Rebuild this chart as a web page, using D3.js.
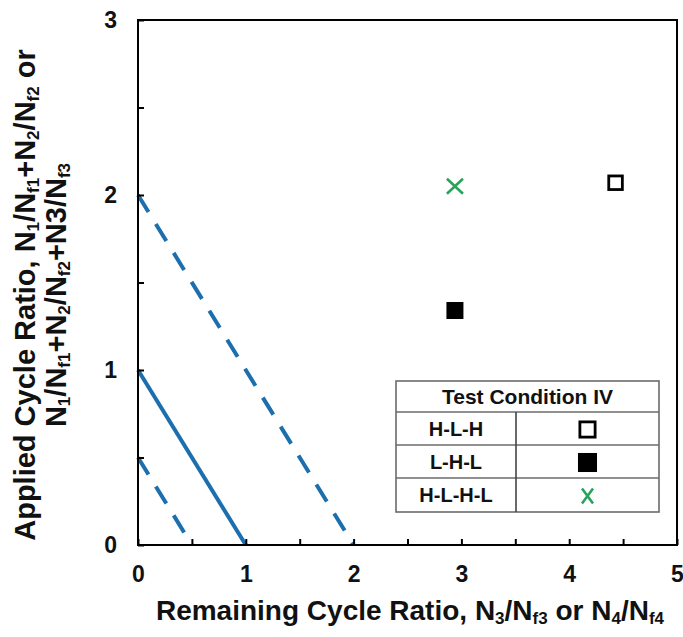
<!DOCTYPE html>
<html>
<head>
<meta charset="utf-8">
<script src="https://cdn.jsdelivr.net/npm/d3@7"></script>
<style>
  html, body { margin: 0; padding: 0; background: #fff; }
  svg { display: block; font-family: "Liberation Sans", Arial, sans-serif; }
</style>
</head>
<body>
<svg id="chart" width="683" height="637"></svg>
<script>
// Cumulative damage sums for the reference lines (x + y = sum)
const damageSums = [0.5, 1, 2];

// Loading sequences and their measured cycle ratios
const sequences = ["H-L-H", "L-H-L", "H-L-H-L"];
const remainingRatio = [4.43, 2.94, 2.94];
const appliedRatio = [2.07, 1.34, 2.05];

// Axis ticks
const xTicks = [0, 0.5, 1, 1.5, 2, 2.5, 3, 3.5, 4, 4.5, 5];
const yTicks = [0, 0.5, 1, 1.5, 2, 2.5, 3];

const legendTitle = "Test Condition IV";

const svg = d3.select("#chart");
const margin = { left: 138, top: 20, right: 6, bottom: 92 };
const W = 683, H = 637;

const x = d3.scaleLinear().domain([0, 5]).range([margin.left, W - margin.right]);
const y = d3.scaleLinear().domain([0, 3]).range([H - margin.bottom, margin.top]);

const blue = "#1c6fae";
const green = "#2aa35a";

// Reference lines
svg.append("g").selectAll("line")
  .data(damageSums)
  .join("line")
  .attr("x1", d => x(0)).attr("y1", d => y(d))
  .attr("x2", d => x(d)).attr("y2", d => y(0))
  .attr("stroke", blue)
  .attr("stroke-width", 4)
  .attr("stroke-dasharray", d => d === 1 ? null : "20,14");

// Plot frame
svg.append("rect")
  .attr("x", x(0)).attr("y", y(3))
  .attr("width", x(5) - x(0)).attr("height", y(0) - y(3))
  .attr("fill", "none").attr("stroke", "#000").attr("stroke-width", 2);

const fmt = d => Number.isInteger(d) ? d3.format("d")(d) : "";

const xAxis = svg.append("g")
  .attr("transform", `translate(0,${y(0)})`)
  .call(d3.axisBottom(x).tickValues(xTicks).tickSize(-6).tickPadding(21).tickFormat(fmt));
const yAxis = svg.append("g")
  .attr("transform", `translate(${x(0)},0)`)
  .call(d3.axisLeft(y).tickValues(yTicks).tickSize(-6).tickPadding(21).tickFormat(fmt));

[xAxis, yAxis].forEach(g => {
  g.select(".domain").remove();
  g.selectAll(".tick line").attr("stroke", "#000").attr("stroke-width", 2);
  g.selectAll(".tick text")
    .attr("fill", "#111")
    .style("font-size", "23px")
    .style("font-weight", "bold");
});

// Data markers
function drawMarker(g, kind, cx, cy, big) {
  const k = big ? 1.12 : 1;
  if (kind === 0) {
    const s = 6.8 * k;
    g.append("rect").attr("x", cx - s).attr("y", cy - s).attr("width", 2 * s).attr("height", 2 * s)
      .attr("fill", "#fff").attr("stroke", "#000").attr("stroke-width", 2.8);
  } else if (kind === 1) {
    const s = 8.5 * k;
    g.append("rect").attr("x", cx - s).attr("y", cy - s).attr("width", 2 * s).attr("height", 2 * s)
      .attr("fill", "#000");
  } else {
    const sx = big ? 5.5 : 8, sy = 7.5;
    g.append("path")
      .attr("d", `M${cx - sx},${cy - sy}L${cx + sx},${cy + sy}M${cx - sx},${cy + sy}L${cx + sx},${cy - sy}`)
      .attr("stroke", green).attr("stroke-width", 2.6).attr("fill", "none");
  }
}

const pts = svg.append("g");
sequences.forEach((s, i) => drawMarker(pts, i, x(remainingRatio[i]), y(appliedRatio[i]), false));

// Legend table
const lg = svg.append("g");
const L = { x0: 396, x1: 659, xm: 516, y0: 381, rows: [412, 445, 478, 512] };
lg.append("rect").attr("x", L.x0).attr("y", L.y0).attr("width", L.x1 - L.x0).attr("height", L.rows[3] - L.y0)
  .attr("fill", "#fff").attr("stroke", "#6b6b6b").attr("stroke-width", 1.6);
L.rows.slice(0, 3).forEach(ry => {
  lg.append("line").attr("x1", L.x0).attr("x2", L.x1).attr("y1", ry).attr("y2", ry)
    .attr("stroke", "#6b6b6b").attr("stroke-width", 1.6);
});
lg.append("line").attr("x1", L.xm).attr("x2", L.xm).attr("y1", L.rows[0]).attr("y2", L.rows[3])
  .attr("stroke", "#444").attr("stroke-width", 1.6);
lg.append("text").attr("x", (L.x0 + L.x1) / 2).attr("y", (L.y0 + L.rows[0]) / 2 + 7.5)
  .attr("text-anchor", "middle").style("font-size", "21px").style("font-weight", "bold")
  .attr("fill", "#111").text(legendTitle);
sequences.forEach((s, i) => {
  const cy = (L.rows[i] + L.rows[i + 1]) / 2;
  lg.append("text").attr("x", (L.x0 + L.xm) / 2).attr("y", cy + 7)
    .attr("text-anchor", "middle").style("font-size", "20px").style("font-weight", "bold")
    .attr("fill", "#111").text(s);
  drawMarker(lg, i, (L.xm + L.x1) / 2, cy + 1, true);
});

// Axis titles with subscripts
function richText(sel, parts) {
  parts.forEach(p => {
    const t = sel.append("tspan").text(p[0]);
    if (p[1]) t.attr("baseline-shift", "-22%").style("font-size", "17px");
  });
}

const xt = svg.append("text")
  .attr("x", 410).attr("y", 620)
  .attr("text-anchor", "middle").attr("fill", "#111")
  .style("font-size", "28px").style("font-weight", "bold");
richText(xt, [["Remaining Cycle Ratio, N"], ["3", 1], ["/N"], ["f3", 1], [" or N"], ["4", 1], ["/N"], ["f4", 1]]);

const yt1 = svg.append("text")
  .attr("transform", "translate(35,295) rotate(-90)")
  .attr("text-anchor", "middle").attr("fill", "#111")
  .style("font-size", "29px").style("font-weight", "bold");
richText(yt1, [["Applied Cycle Ratio, N"], ["1", 1], ["/N"], ["f1", 1], ["+N"], ["2", 1], ["/N"], ["f2", 1], [" or"]]);

const yt2 = svg.append("text")
  .attr("transform", "translate(66,295) rotate(-90)")
  .attr("text-anchor", "middle").attr("fill", "#111")
  .style("font-size", "29px").style("font-weight", "bold");
richText(yt2, [["N"], ["1", 1], ["/N"], ["f1", 1], ["+N"], ["2", 1], ["/N"], ["f2", 1], ["+N3/N"], ["f3", 1]]);
</script>
</body>
</html>
